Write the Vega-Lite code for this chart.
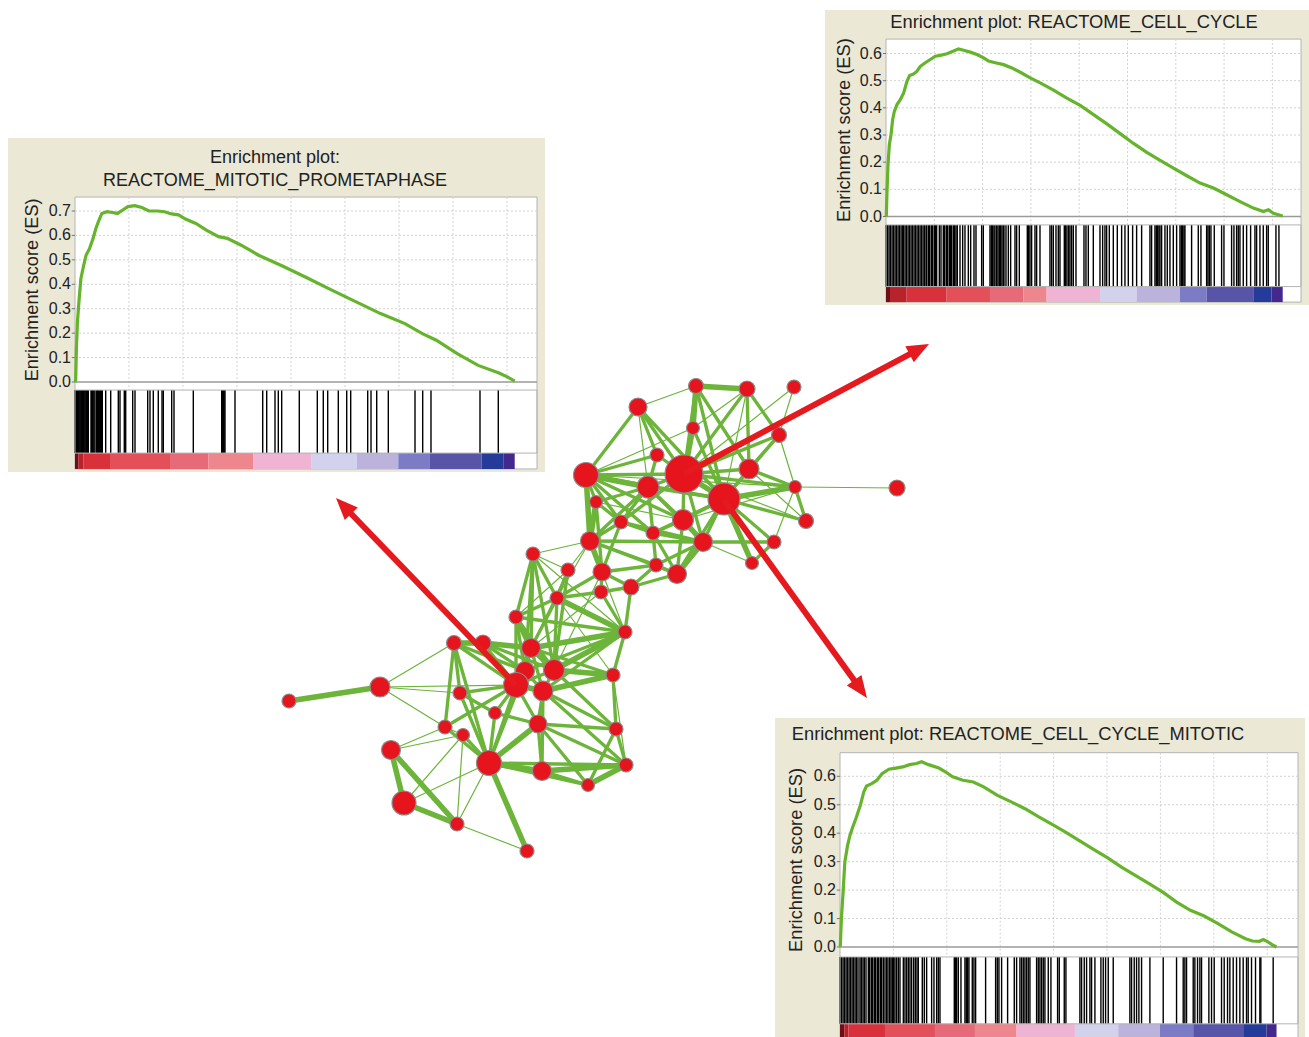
{
"$schema":"https://vega.github.io/schema/vega-lite/v6.json",
"width":1309,"height":1037,"autosize":"none","padding":0,"background":"#ffffff",
"config":{"view":{"stroke":null},"font":"Liberation Sans"},
"datasets":{
"gx":[{"v":2500},{"v":5000},{"v":7500},{"v":10000},{"v":12500},{"v":15000},{"v":17500},{"v":20000}],
"gy7":[{"v":0.1},{"v":0.2},{"v":0.3},{"v":0.4},{"v":0.5},{"v":0.6},{"v":0.7}],
"gy6":[{"v":0.1},{"v":0.2},{"v":0.3},{"v":0.4},{"v":0.5},{"v":0.6}],
"ty7":[{"v":0},{"v":0.1},{"v":0.2},{"v":0.3},{"v":0.4},{"v":0.5},{"v":0.6},{"v":0.7}],
"ty6":[{"v":0},{"v":0.1},{"v":0.2},{"v":0.3},{"v":0.4},{"v":0.5},{"v":0.6}],
"tl_es":[{"rank":0,"es":0},{"rank":32,"es":0.007},{"rank":65,"es":0.137},{"rank":113,"es":0.246},{"rank":194,"es":0.342},{"rank":274,"es":0.424},{"rank":403,"es":0.478},{"rank":516,"es":0.52},{"rank":677,"es":0.547},{"rank":839,"es":0.588},{"rank":968,"es":0.629},{"rank":1113,"es":0.663},{"rank":1242,"es":0.69},{"rank":1484,"es":0.697},{"rank":1726,"es":0.694},{"rank":1968,"es":0.69},{"rank":2210,"es":0.704},{"rank":2452,"es":0.718},{"rank":2774,"es":0.722},{"rank":3097,"es":0.714},{"rank":3420,"es":0.7},{"rank":3823,"es":0.7},{"rank":4145,"es":0.697},{"rank":4468,"es":0.688},{"rank":4791,"es":0.684},{"rank":5113,"es":0.667},{"rank":5597,"es":0.649},{"rank":6081,"es":0.622},{"rank":6646,"es":0.595},{"rank":7049,"es":0.588},{"rank":7694,"es":0.56},{"rank":8500,"es":0.519},{"rank":9630,"es":0.474},{"rank":10759,"es":0.426},{"rank":11888,"es":0.376},{"rank":13017,"es":0.328},{"rank":14146,"es":0.28},{"rank":15275,"es":0.239},{"rank":16082,"es":0.198},{"rank":16727,"es":0.171},{"rank":17695,"es":0.116},{"rank":18663,"es":0.068},{"rank":19631,"es":0.037},{"rank":20034,"es":0.02},{"rank":20357,"es":0.004}],
"tl_hits":[{"rank":0},{"rank":40},{"rank":79},{"rank":115},{"rank":153},{"rank":192},{"rank":231},{"rank":270},{"rank":310},{"rank":347},{"rank":384},{"rank":424},{"rank":463},{"rank":502},{"rank":542},{"rank":580},{"rank":616},{"rank":741},{"rank":770},{"rank":801},{"rank":840},{"rank":880},{"rank":926},{"rank":1005},{"rank":1035},{"rank":1065},{"rank":1095},{"rank":1125},{"rank":1160},{"rank":1190},{"rank":1225},{"rank":1264},{"rank":1421},{"rank":1653},{"rank":2005},{"rank":2083},{"rank":2282},{"rank":2347},{"rank":2671},{"rank":2778},{"rank":3366},{"rank":3472},{"rank":3625},{"rank":3856},{"rank":4028},{"rank":4088},{"rank":4477},{"rank":4583},{"rank":5477},{"rank":6792},{"rank":6830},{"rank":6866},{"rank":6905},{"rank":6944},{"rank":7407},{"rank":8690},{"rank":8875},{"rank":9259},{"rank":9412},{"rank":9569},{"rank":10384},{"rank":11218},{"rank":11495},{"rank":11699},{"rank":12190},{"rank":12579},{"rank":12764},{"rank":13551},{"rank":13704},{"rank":13968},{"rank":14505},{"rank":15741},{"rank":16097},{"rank":16481},{"rank":18750},{"rank":19597}],
"tl_bar":[{"s":0,"e":150,"lv":6},{"s":150,"e":400,"lv":5},{"s":400,"e":1620,"lv":4},{"s":1620,"e":4398,"lv":3},{"s":4398,"e":6172,"lv":2},{"s":6172,"e":8255,"lv":1},{"s":8255,"e":10955,"lv":0},{"s":10955,"e":13038,"lv":-1},{"s":13038,"e":14967,"lv":-2},{"s":14967,"e":16433,"lv":-3},{"s":16433,"e":18825,"lv":-4},{"s":18825,"e":19828,"lv":-5},{"s":19828,"e":20357,"lv":-6}],
"tr_es":[{"rank":0,"es":0},{"rank":17,"es":0.004},{"rank":52,"es":0.092},{"rank":103,"es":0.19},{"rank":172,"es":0.264},{"rank":259,"es":0.301},{"rank":345,"es":0.357},{"rank":431,"es":0.387},{"rank":569,"es":0.412},{"rank":741,"es":0.43},{"rank":914,"es":0.455},{"rank":1086,"es":0.498},{"rank":1224,"es":0.519},{"rank":1431,"es":0.525},{"rank":1603,"es":0.535},{"rank":1776,"es":0.553},{"rank":2034,"es":0.566},{"rank":2293,"es":0.578},{"rank":2552,"es":0.59},{"rank":2810,"es":0.593},{"rank":3155,"es":0.599},{"rank":3500,"es":0.609},{"rank":3758,"es":0.617},{"rank":4017,"es":0.612},{"rank":4362,"es":0.605},{"rank":4706,"es":0.596},{"rank":5051,"es":0.584},{"rank":5310,"es":0.572},{"rank":5655,"es":0.566},{"rank":6086,"es":0.559},{"rank":6517,"es":0.547},{"rank":6948,"es":0.531},{"rank":7465,"es":0.51},{"rank":7982,"es":0.492},{"rank":8672,"es":0.465},{"rank":9362,"es":0.436},{"rank":10051,"es":0.409},{"rank":10741,"es":0.375},{"rank":11431,"es":0.341},{"rank":12120,"es":0.305},{"rank":12810,"es":0.269},{"rank":13499,"es":0.236},{"rank":14189,"es":0.207},{"rank":14879,"es":0.178},{"rank":15568,"es":0.15},{"rank":16258,"es":0.123},{"rank":16947,"es":0.105},{"rank":17637,"es":0.08},{"rank":18326,"es":0.055},{"rank":19016,"es":0.031},{"rank":19533,"es":0.018},{"rank":19792,"es":0.025},{"rank":20050,"es":0.012},{"rank":20533,"es":0.002}],
"tr_hits":[{"rank":0},{"rank":69},{"rank":155},{"rank":224},{"rank":311},{"rank":380},{"rank":466},{"rank":535},{"rank":621},{"rank":690},{"rank":776},{"rank":845},{"rank":897},{"rank":983},{"rank":1052},{"rank":1139},{"rank":1208},{"rank":1294},{"rank":1363},{"rank":1449},{"rank":1518},{"rank":1604},{"rank":1673},{"rank":1760},{"rank":1829},{"rank":1915},{"rank":1984},{"rank":2070},{"rank":2105},{"rank":2191},{"rank":2260},{"rank":2346},{"rank":2415},{"rank":2501},{"rank":2570},{"rank":2622},{"rank":2760},{"rank":2846},{"rank":2967},{"rank":3036},{"rank":3122},{"rank":3191},{"rank":3278},{"rank":3347},{"rank":3398},{"rank":3485},{"rank":3554},{"rank":3623},{"rank":3692},{"rank":3830},{"rank":3968},{"rank":4088},{"rank":4261},{"rank":4382},{"rank":4554},{"rank":4658},{"rank":4951},{"rank":5037},{"rank":5382},{"rank":5451},{"rank":5520},{"rank":5589},{"rank":5641},{"rank":5727},{"rank":5796},{"rank":5865},{"rank":5934},{"rank":6003},{"rank":6072},{"rank":6107},{"rank":6210},{"rank":6331},{"rank":6452},{"rank":6676},{"rank":6762},{"rank":6900},{"rank":7314},{"rank":7383},{"rank":7452},{"rank":7538},{"rank":7711},{"rank":7797},{"rank":7970},{"rank":8487},{"rank":8573},{"rank":8660},{"rank":8798},{"rank":8918},{"rank":9005},{"rank":9229},{"rank":9298},{"rank":9367},{"rank":9453},{"rank":9522},{"rank":9608},{"rank":9695},{"rank":9833},{"rank":10247},{"rank":10350},{"rank":10471},{"rank":10730},{"rank":11075},{"rank":11213},{"rank":11333},{"rank":11420},{"rank":11558},{"rank":11765},{"rank":11972},{"rank":12196},{"rank":12368},{"rank":12541},{"rank":12765},{"rank":12972},{"rank":13231},{"rank":13662},{"rank":13748},{"rank":13921},{"rank":13990},{"rank":14059},{"rank":14128},{"rank":14180},{"rank":14266},{"rank":14438},{"rank":14559},{"rank":14697},{"rank":14870},{"rank":15042},{"rank":15215},{"rank":15284},{"rank":15353},{"rank":15422},{"rank":15473},{"rank":15818},{"rank":16163},{"rank":16301},{"rank":16595},{"rank":16664},{"rank":16733},{"rank":16819},{"rank":16991},{"rank":17371},{"rank":17492},{"rank":17888},{"rank":18009},{"rank":18147},{"rank":18233},{"rank":18320},{"rank":18492},{"rank":18665},{"rank":18872},{"rank":19096},{"rank":19182},{"rank":19355},{"rank":19527},{"rank":19700},{"rank":19786},{"rank":20183},{"rank":20338}],
"tr_bar":[{"s":0,"e":207,"lv":6},{"s":207,"e":1070,"lv":5},{"s":1070,"e":3140,"lv":4},{"s":3140,"e":5382,"lv":3},{"s":5382,"e":7107,"lv":2},{"s":7107,"e":8315,"lv":1},{"s":8315,"e":11075,"lv":0},{"s":11075,"e":12972,"lv":-1},{"s":12972,"e":15215,"lv":-2},{"s":15215,"e":16595,"lv":-3},{"s":16595,"e":19010,"lv":-4},{"s":19010,"e":19958,"lv":-5},{"s":19958,"e":20533,"lv":-6}],
"br_es":[{"rank":0,"es":0},{"rank":16,"es":0.006},{"rank":65,"es":0.1},{"rank":145,"es":0.193},{"rank":226,"es":0.299},{"rank":355,"es":0.357},{"rank":468,"es":0.393},{"rank":597,"es":0.422},{"rank":758,"es":0.454},{"rank":952,"es":0.498},{"rank":1113,"es":0.545},{"rank":1242,"es":0.566},{"rank":1484,"es":0.574},{"rank":1726,"es":0.586},{"rank":1968,"es":0.609},{"rank":2290,"es":0.625},{"rank":2613,"es":0.629},{"rank":2936,"es":0.633},{"rank":3258,"es":0.641},{"rank":3581,"es":0.645},{"rank":3823,"es":0.651},{"rank":4145,"es":0.641},{"rank":4629,"es":0.629},{"rank":4952,"es":0.615},{"rank":5274,"es":0.598},{"rank":5758,"es":0.586},{"rank":6242,"es":0.58},{"rank":6726,"es":0.563},{"rank":7371,"es":0.533},{"rank":8017,"es":0.51},{"rank":8662,"es":0.486},{"rank":9307,"es":0.457},{"rank":9952,"es":0.43},{"rank":10597,"es":0.402},{"rank":11243,"es":0.372},{"rank":11888,"es":0.342},{"rank":12533,"es":0.313},{"rank":13178,"es":0.281},{"rank":13823,"es":0.252},{"rank":14469,"es":0.223},{"rank":15114,"es":0.193},{"rank":15759,"es":0.158},{"rank":16404,"es":0.129},{"rank":17049,"es":0.109},{"rank":17695,"es":0.082},{"rank":18340,"es":0.053},{"rank":18985,"es":0.029},{"rank":19308,"es":0.021},{"rank":19631,"es":0.02},{"rank":19824,"es":0.026},{"rank":20034,"es":0.018},{"rank":20276,"es":0.006},{"rank":20437,"es":0.0}],
"br_hits":[{"rank":0},{"rank":62},{"rank":140},{"rank":203},{"rank":281},{"rank":343},{"rank":421},{"rank":484},{"rank":562},{"rank":624},{"rank":702},{"rank":764},{"rank":842},{"rank":936},{"rank":998},{"rank":1076},{"rank":1139},{"rank":1217},{"rank":1326},{"rank":1388},{"rank":1466},{"rank":1529},{"rank":1607},{"rank":1669},{"rank":1747},{"rank":1810},{"rank":1888},{"rank":1950},{"rank":2028},{"rank":2106},{"rank":2184},{"rank":2246},{"rank":2324},{"rank":2387},{"rank":2449},{"rank":2512},{"rank":2574},{"rank":2652},{"rank":2730},{"rank":2808},{"rank":2964},{"rank":3042},{"rank":3120},{"rank":3198},{"rank":3276},{"rank":3354},{"rank":3448},{"rank":3526},{"rank":3604},{"rank":3666},{"rank":3853},{"rank":3947},{"rank":4056},{"rank":4290},{"rank":4399},{"rank":4524},{"rank":4602},{"rank":4680},{"rank":5351},{"rank":5413},{"rank":5460},{"rank":5538},{"rank":5663},{"rank":5850},{"rank":5912},{"rank":5975},{"rank":6037},{"rank":6193},{"rank":6271},{"rank":6349},{"rank":6817},{"rank":7285},{"rank":7363},{"rank":7441},{"rank":7566},{"rank":7847},{"rank":8159},{"rank":8268},{"rank":8424},{"rank":8502},{"rank":8580},{"rank":8658},{"rank":8736},{"rank":8814},{"rank":8892},{"rank":9204},{"rank":9282},{"rank":9360},{"rank":9438},{"rank":9516},{"rank":9594},{"rank":9750},{"rank":9875},{"rank":10187},{"rank":10265},{"rank":10499},{"rank":10577},{"rank":11232},{"rank":11310},{"rank":11435},{"rank":11544},{"rank":11700},{"rank":11778},{"rank":11934},{"rank":12215},{"rank":12324},{"rank":12433},{"rank":12558},{"rank":12792},{"rank":13572},{"rank":13650},{"rank":13775},{"rank":13884},{"rank":13993},{"rank":14118},{"rank":14508},{"rank":15132},{"rank":15756},{"rank":16068},{"rank":16146},{"rank":16224},{"rank":16536},{"rank":16614},{"rank":16739},{"rank":16848},{"rank":16926},{"rank":17269},{"rank":17394},{"rank":17519},{"rank":17862},{"rank":17987},{"rank":18143},{"rank":18252},{"rank":18408},{"rank":18564},{"rank":18720},{"rank":18876},{"rank":19032},{"rank":19110},{"rank":19266},{"rank":19453},{"rank":19656},{"rank":19703},{"rank":20280}],
"br_bar":[{"s":0,"e":200,"lv":6},{"s":200,"e":390,"lv":5},{"s":390,"e":2106,"lv":4},{"s":2106,"e":4446,"lv":3},{"s":4446,"e":6318,"lv":2},{"s":6318,"e":8268,"lv":1},{"s":8268,"e":10998,"lv":0},{"s":10998,"e":13026,"lv":-1},{"s":13026,"e":14976,"lv":-2},{"s":14976,"e":16536,"lv":-3},{"s":16536,"e":18876,"lv":-4},{"s":18876,"e":19968,"lv":-5},{"s":19968,"e":20437,"lv":-6}],
"nodes":[{"id":"u1","x":696,"y":386,"genes":56},{"id":"u2","x":747,"y":389,"genes":64},{"id":"u3","x":794,"y":387,"genes":49},{"id":"u4","x":638,"y":407,"genes":81},{"id":"u5","x":693,"y":428,"genes":42},{"id":"u6","x":779,"y":435,"genes":56},{"id":"u7","x":657,"y":455,"genes":49},{"id":"u8","x":586,"y":475,"genes":156},{"id":"u9","x":684,"y":474,"genes":361},{"id":"u10","x":749,"y":469,"genes":100},{"id":"u11","x":648,"y":487,"genes":121},{"id":"u12","x":724,"y":499,"genes":256},{"id":"u13","x":795,"y":487,"genes":42},{"id":"u14","x":897,"y":488,"genes":64},{"id":"u15","x":596,"y":502,"genes":42},{"id":"u16","x":621,"y":522,"genes":49},{"id":"u17","x":683,"y":520,"genes":110},{"id":"u18","x":653,"y":533,"genes":49},{"id":"u19","x":806,"y":521,"genes":56},{"id":"u20","x":590,"y":541,"genes":90},{"id":"u21","x":703,"y":542,"genes":90},{"id":"u22","x":774,"y":542,"genes":49},{"id":"u23","x":752,"y":563,"genes":42},{"id":"u24","x":656,"y":565,"genes":49},{"id":"u25","x":602,"y":572,"genes":81},{"id":"u26","x":677,"y":574,"genes":90},{"id":"u27","x":568,"y":570,"genes":49},{"id":"u28","x":631,"y":587,"genes":64},{"id":"u29","x":601,"y":592,"genes":49},
{"id":"l1","x":533,"y":554,"genes":49},{"id":"l2","x":557,"y":598,"genes":49},{"id":"l3","x":516,"y":617,"genes":49},{"id":"l4","x":625,"y":632,"genes":49},{"id":"l5","x":454,"y":643,"genes":56},{"id":"l6","x":483,"y":643,"genes":64},{"id":"l7","x":531,"y":648,"genes":90},{"id":"l8","x":525,"y":671,"genes":90},{"id":"l9","x":554,"y":670,"genes":110},{"id":"l10","x":516,"y":685,"genes":156},{"id":"l11","x":543,"y":691,"genes":100},{"id":"l12","x":613,"y":675,"genes":49},{"id":"l13","x":380,"y":687,"genes":100},{"id":"l14","x":289,"y":701,"genes":49},{"id":"l15","x":460,"y":693,"genes":49},{"id":"l16","x":495,"y":713,"genes":42},{"id":"l17","x":445,"y":727,"genes":49},{"id":"l18","x":463,"y":735,"genes":42},{"id":"l19","x":538,"y":724,"genes":81},{"id":"l20","x":616,"y":729,"genes":49},{"id":"l21","x":391,"y":750,"genes":90},{"id":"l22","x":489,"y":763,"genes":156},{"id":"l23","x":542,"y":771,"genes":90},{"id":"l24","x":626,"y":765,"genes":49},{"id":"l25","x":588,"y":785,"genes":42},{"id":"l26","x":404,"y":803,"genes":144},{"id":"l27","x":457,"y":824,"genes":49},{"id":"l28","x":527,"y":851,"genes":49}],
"edges":[{"s":"u1","t":"u2","w":3},{"s":"u1","t":"u5","w":3},{"s":"u1","t":"u9","w":2},{"s":"u1","t":"u10","w":2},{"s":"u1","t":"u12","w":2},{"s":"u1","t":"u4","w":1},{"s":"u2","t":"u6","w":2},{"s":"u2","t":"u9","w":2},{"s":"u2","t":"u10","w":2},{"s":"u2","t":"u12","w":1},{"s":"u2","t":"u5","w":1},{"s":"u3","t":"u9","w":1},{"s":"u3","t":"u6","w":1},{"s":"u4","t":"u8","w":2},{"s":"u4","t":"u9","w":2},{"s":"u4","t":"u7","w":2},{"s":"u4","t":"u11","w":1},{"s":"u4","t":"u12","w":2},{"s":"u5","t":"u9","w":3},{"s":"u5","t":"u12","w":2},{"s":"u5","t":"u8","w":1},{"s":"u6","t":"u9","w":2},{"s":"u6","t":"u10","w":2},{"s":"u6","t":"u12","w":2},{"s":"u6","t":"u13","w":1},{"s":"u7","t":"u8","w":2},{"s":"u7","t":"u9","w":2},{"s":"u7","t":"u11","w":2},{"s":"u8","t":"u9","w":2},{"s":"u8","t":"u11","w":3},{"s":"u8","t":"u12","w":2},{"s":"u8","t":"u15","w":2},{"s":"u8","t":"u20","w":3},{"s":"u8","t":"u13","w":1},{"s":"u8","t":"u17","w":2},{"s":"u8","t":"u18","w":2},{"s":"u8","t":"u16","w":2},{"s":"u9","t":"u10","w":2},{"s":"u9","t":"u11","w":2},{"s":"u9","t":"u12","w":3},{"s":"u9","t":"u13","w":2},{"s":"u9","t":"u17","w":2},{"s":"u9","t":"u21","w":2},{"s":"u9","t":"u16","w":2},{"s":"u9","t":"u19","w":1},{"s":"u10","t":"u12","w":2},{"s":"u10","t":"u13","w":2},{"s":"u10","t":"u19","w":1},{"s":"u12","t":"u13","w":3},{"s":"u12","t":"u19","w":2},{"s":"u12","t":"u21","w":2},{"s":"u12","t":"u17","w":2},{"s":"u12","t":"u23","w":3},{"s":"u12","t":"u22","w":2},{"s":"u12","t":"u18","w":2},{"s":"u12","t":"u26","w":2},{"s":"u13","t":"u14","w":1},{"s":"u13","t":"u19","w":2},{"s":"u13","t":"u22","w":1},{"s":"u13","t":"u17","w":1},{"s":"u11","t":"u15","w":2},{"s":"u11","t":"u16","w":2},{"s":"u11","t":"u17","w":2},{"s":"u11","t":"u18","w":2},{"s":"u11","t":"u20","w":2},{"s":"u11","t":"u12","w":2},{"s":"u11","t":"u21","w":2},{"s":"u15","t":"u20","w":3},{"s":"u15","t":"u16","w":2},{"s":"u15","t":"u17","w":1},{"s":"u16","t":"u20","w":2},{"s":"u16","t":"u21","w":2},{"s":"u16","t":"u18","w":2},{"s":"u17","t":"u21","w":3},{"s":"u17","t":"u18","w":2},{"s":"u18","t":"u21","w":2},{"s":"u18","t":"u24","w":2},{"s":"u20","t":"u25","w":3},{"s":"u20","t":"u24","w":2},{"s":"u20","t":"u26","w":2},{"s":"u20","t":"u21","w":2},{"s":"u20","t":"u27","w":1},{"s":"u21","t":"u26","w":3},{"s":"u21","t":"u24","w":2},{"s":"u21","t":"u23","w":1},{"s":"u21","t":"u22","w":2},{"s":"u22","t":"u23","w":2},{"s":"u24","t":"u25","w":2},{"s":"u24","t":"u26","w":2},{"s":"u25","t":"u28","w":2},{"s":"u26","t":"u28","w":2},{"s":"u24","t":"u28","w":2},{"s":"u25","t":"u29","w":2},{"s":"u28","t":"u29","w":2},{"s":"u16","t":"u25","w":2},{"s":"u17","t":"u26","w":2},{"s":"u18","t":"u26","w":2},{"s":"u15","t":"u25","w":2},
{"s":"u20","t":"l1","w":1},{"s":"u27","t":"l1","w":1},{"s":"u27","t":"l2","w":2},{"s":"u25","t":"l2","w":2},{"s":"u29","t":"l2","w":2},{"s":"u27","t":"l3","w":1},{"s":"u29","t":"l4","w":2},{"s":"u28","t":"l4","w":2},{"s":"u25","t":"l4","w":1},{"s":"u20","t":"l2","w":1},{"s":"u27","t":"l7","w":1},{"s":"u29","t":"l7","w":1},{"s":"u27","t":"l9","w":2},{"s":"u25","t":"l9","w":1},
{"s":"l1","t":"l3","w":2},{"s":"l1","t":"l2","w":2},{"s":"l1","t":"l7","w":2},{"s":"l1","t":"l9","w":2},{"s":"l1","t":"l8","w":2},{"s":"l1","t":"l4","w":1},{"s":"l2","t":"l4","w":3},{"s":"l2","t":"l7","w":2},{"s":"l2","t":"l9","w":2},{"s":"l2","t":"l3","w":2},{"s":"l2","t":"l12","w":1},{"s":"l3","t":"l7","w":3},{"s":"l3","t":"l8","w":2},{"s":"l3","t":"l10","w":2},{"s":"l3","t":"l9","w":2},{"s":"l3","t":"l4","w":2},{"s":"l4","t":"l9","w":3},{"s":"l4","t":"l12","w":2},{"s":"l4","t":"l7","w":3},{"s":"l4","t":"l11","w":2},{"s":"l4","t":"l8","w":2},{"s":"l5","t":"l6","w":3},{"s":"l5","t":"l10","w":2},{"s":"l5","t":"l15","w":2},{"s":"l5","t":"l17","w":2},{"s":"l5","t":"l22","w":2},{"s":"l5","t":"l13","w":1},{"s":"l5","t":"l8","w":2},{"s":"l6","t":"l7","w":3},{"s":"l6","t":"l10","w":2},{"s":"l6","t":"l9","w":2},{"s":"l6","t":"l8","w":2},{"s":"l7","t":"l8","w":2},{"s":"l7","t":"l9","w":3},{"s":"l7","t":"l10","w":2},{"s":"l7","t":"l11","w":2},{"s":"l7","t":"l12","w":2},{"s":"l8","t":"l10","w":2},{"s":"l8","t":"l11","w":2},{"s":"l9","t":"l11","w":2},{"s":"l9","t":"l12","w":3},{"s":"l9","t":"l10","w":2},{"s":"l9","t":"l20","w":2},{"s":"l10","t":"l13","w":1},{"s":"l10","t":"l15","w":2},{"s":"l10","t":"l16","w":2},{"s":"l10","t":"l17","w":2},{"s":"l10","t":"l19","w":2},{"s":"l10","t":"l22","w":2},{"s":"l10","t":"l11","w":3},{"s":"l11","t":"l19","w":2},{"s":"l11","t":"l23","w":2},{"s":"l11","t":"l12","w":3},{"s":"l11","t":"l24","w":2},{"s":"l11","t":"l20","w":2},{"s":"l12","t":"l20","w":2},{"s":"l12","t":"l24","w":1},{"s":"l13","t":"l14","w":3},{"s":"l13","t":"l15","w":1},{"s":"l13","t":"l17","w":1},{"s":"l15","t":"l16","w":2},{"s":"l15","t":"l22","w":2},{"s":"l16","t":"l19","w":2},{"s":"l16","t":"l22","w":2},{"s":"l17","t":"l18","w":1},{"s":"l17","t":"l22","w":2},{"s":"l18","t":"l22","w":2},{"s":"l18","t":"l21","w":1},{"s":"l18","t":"l26","w":1},{"s":"l18","t":"l27","w":1},{"s":"l17","t":"l21","w":1},{"s":"l19","t":"l22","w":3},{"s":"l19","t":"l23","w":2},{"s":"l19","t":"l20","w":2},{"s":"l19","t":"l25","w":2},{"s":"l19","t":"l24","w":2},{"s":"l20","t":"l24","w":2},{"s":"l20","t":"l25","w":2},{"s":"l21","t":"l26","w":3},{"s":"l21","t":"l27","w":3},{"s":"l22","t":"l23","w":3},{"s":"l22","t":"l24","w":2},{"s":"l22","t":"l27","w":1},{"s":"l22","t":"l28","w":3},{"s":"l22","t":"l25","w":2},{"s":"l22","t":"l26","w":1},{"s":"l23","t":"l25","w":2},{"s":"l23","t":"l24","w":3},{"s":"l24","t":"l25","w":3},{"s":"l26","t":"l27","w":3},{"s":"l27","t":"l28","w":1},{"s":"l8","t":"l22","w":2}],
"arrows":[{"x1":684,"y1":474,"x2":929,"y2":344},{"x1":724,"y1":500,"x2":867,"y2":698},{"x1":516,"y1":685,"x2":336,"y2":498}]
},
"layer":[
{"layer":[
 {"data":{"values":[{}]},"mark":{"type":"rect","fill":"#ebe8d6"},"encoding":{"x":{"datum":-3102,"type":"quantitative","scale":{"domain":[0,21389],"range":[75,537],"nice":false,"zero":false},"axis":null},"x2":{"datum":21759},"y":{"datum":0.999,"type":"quantitative","scale":{"domain":[0,0.7],"range":[382,211],"nice":false,"zero":false},"axis":null},"y2":{"datum":-0.368}}},
 {"data":{"values":[{}]},"mark":{"type":"rect","fill":"#ffffff","stroke":"#b4b4b4","strokeWidth":1},"encoding":{"x":{"datum":0,"type":"quantitative","axis":null},"x2":{"datum":21389},"y":{"datum":0.757,"type":"quantitative","axis":null},"y2":{"datum":-0.356}}},
 {"data":{"name":"gx"},"mark":{"type":"rule","color":"#d2d2d2","strokeDash":[2,2],"strokeWidth":1},"encoding":{"x":{"field":"v","type":"quantitative","axis":null},"y":{"datum":0.757,"type":"quantitative","axis":null},"y2":{"datum":-0.033}}},
 {"data":{"name":"gy7"},"mark":{"type":"rule","color":"#d2d2d2","strokeDash":[2,2],"strokeWidth":1},"encoding":{"y":{"field":"v","type":"quantitative","axis":null},"x":{"datum":0,"type":"quantitative","axis":null},"x2":{"datum":21389}}},
 {"data":{"values":[{}]},"mark":{"type":"rule","color":"#9a9a9a","strokeWidth":1.5},"encoding":{"y":{"datum":0,"type":"quantitative","axis":null},"x":{"datum":0,"type":"quantitative","axis":null},"x2":{"datum":21389}}},
 {"data":{"name":"ty7"},"mark":{"type":"rule","color":"#777777","strokeWidth":1},"encoding":{"y":{"field":"v","type":"quantitative","axis":null},"x":{"datum":-150,"type":"quantitative","axis":null},"x2":{"datum":0}}},
 {"data":{"name":"ty7"},"mark":{"type":"text","font":"Liberation Sans","fontSize":16,"color":"#222222","align":"right","baseline":"middle","dx":-4},"encoding":{"y":{"field":"v","type":"quantitative","axis":null},"x":{"datum":0,"type":"quantitative","axis":null},"text":{"field":"v","type":"quantitative","format":".1f"}}},
 {"data":{"values":[{}]},"mark":{"type":"text","font":"Liberation Sans","fontSize":18.2,"color":"#222222","align":"center","baseline":"middle","angle":270},"encoding":{"x":{"datum":-1944,"type":"quantitative","axis":null},"y":{"datum":0.377,"type":"quantitative","axis":null},"text":{"value":"Enrichment score (ES)"}}},
 {"data":{"name":"tl_bar"},"mark":{"type":"rect"},"encoding":{"x":{"field":"s","type":"quantitative","axis":null},"x2":{"field":"e"},"y":{"datum":-0.291,"type":"quantitative","axis":null},"y2":{"datum":-0.356},"color":{"field":"lv","type":"ordinal","scale":{"domain":[6,5,4,3,2,1,0,-1,-2,-3,-4,-5,-6],"range":["#6d0f14","#b9222b","#d9313b","#e4505a","#e66a78","#ee868d","#efb3d4","#d3d2ed","#bcb3dc","#7b7cc5","#5855a9","#253b99","#43288e"]},"legend":null}}},
 {"data":{"name":"tl_hits"},"mark":{"type":"rule","color":"#000000","strokeWidth":1.4},"encoding":{"x":{"field":"rank","type":"quantitative","axis":null},"y":{"datum":-0.033,"type":"quantitative","axis":null},"y2":{"datum":-0.291}}},
 {"data":{"values":[{}]},"mark":{"type":"rect","fillOpacity":0,"stroke":"#b4b4b4","strokeWidth":1},"encoding":{"x":{"datum":0,"type":"quantitative","axis":null},"x2":{"datum":21389},"y":{"datum":-0.033,"type":"quantitative","axis":null},"y2":{"datum":-0.291}}},
 {"data":{"name":"tl_es"},"mark":{"type":"line","color":"#66b32c","strokeWidth":3.2},"encoding":{"x":{"field":"rank","type":"quantitative","axis":null},"y":{"field":"es","type":"quantitative","axis":null}}},
 {"data":{"values":[{}]},"mark":{"type":"text","font":"Liberation Sans","fontSize":18,"color":"#222222","align":"center","baseline":"middle","lineHeight":23},"encoding":{"x":{"datum":9259,"type":"quantitative","axis":null},"y":{"datum":0.917,"type":"quantitative","axis":null},"text":{"value":["Enrichment plot:","REACTOME_MITOTIC_PROMETAPHASE"]}}}
]},
{"layer":[
 {"data":{"values":[{}]},"mark":{"type":"rect","fill":"#ebe8d6"},"encoding":{"x":{"datum":-3157,"type":"quantitative","scale":{"domain":[0,21480],"range":[886,1301],"nice":false,"zero":false},"axis":null},"x2":{"datum":21894},"y":{"datum":0.76,"type":"quantitative","scale":{"domain":[0,0.6],"range":[216.5,53.5],"nice":false,"zero":false},"axis":null},"y2":{"datum":-0.326}}},
 {"data":{"values":[{}]},"mark":{"type":"rect","fill":"#ffffff","stroke":"#b4b4b4","strokeWidth":1},"encoding":{"x":{"datum":0,"type":"quantitative","axis":null},"x2":{"datum":21480},"y":{"datum":0.653,"type":"quantitative","axis":null},"y2":{"datum":-0.315}}},
 {"data":{"name":"gx"},"mark":{"type":"rule","color":"#d2d2d2","strokeDash":[2,2],"strokeWidth":1},"encoding":{"x":{"field":"v","type":"quantitative","axis":null},"y":{"datum":0.653,"type":"quantitative","axis":null},"y2":{"datum":-0.031}}},
 {"data":{"name":"gy6"},"mark":{"type":"rule","color":"#d2d2d2","strokeDash":[2,2],"strokeWidth":1},"encoding":{"y":{"field":"v","type":"quantitative","axis":null},"x":{"datum":0,"type":"quantitative","axis":null},"x2":{"datum":21480}}},
 {"data":{"values":[{}]},"mark":{"type":"rule","color":"#9a9a9a","strokeWidth":1.5},"encoding":{"y":{"datum":0,"type":"quantitative","axis":null},"x":{"datum":0,"type":"quantitative","axis":null},"x2":{"datum":21480}}},
 {"data":{"name":"ty6"},"mark":{"type":"rule","color":"#777777","strokeWidth":1},"encoding":{"y":{"field":"v","type":"quantitative","axis":null},"x":{"datum":-160,"type":"quantitative","axis":null},"x2":{"datum":0}}},
 {"data":{"name":"ty6"},"mark":{"type":"text","font":"Liberation Sans","fontSize":16,"color":"#222222","align":"right","baseline":"middle","dx":-4},"encoding":{"y":{"field":"v","type":"quantitative","axis":null},"x":{"datum":0,"type":"quantitative","axis":null},"text":{"field":"v","type":"quantitative","format":".1f"}}},
 {"data":{"values":[{}]},"mark":{"type":"text","font":"Liberation Sans","fontSize":18.3,"color":"#222222","align":"center","baseline":"middle","angle":270},"encoding":{"x":{"datum":-2122,"type":"quantitative","axis":null},"y":{"datum":0.318,"type":"quantitative","axis":null},"text":{"value":"Enrichment score (ES)"}}},
 {"data":{"name":"tr_bar"},"mark":{"type":"rect"},"encoding":{"x":{"field":"s","type":"quantitative","axis":null},"x2":{"field":"e"},"y":{"datum":-0.258,"type":"quantitative","axis":null},"y2":{"datum":-0.315},"color":{"field":"lv","type":"ordinal","scale":{"domain":[6,5,4,3,2,1,0,-1,-2,-3,-4,-5,-6],"range":["#6d0f14","#b9222b","#d9313b","#e4505a","#e66a78","#ee868d","#efb3d4","#d3d2ed","#bcb3dc","#7b7cc5","#5855a9","#253b99","#43288e"]},"legend":null}}},
 {"data":{"name":"tr_hits"},"mark":{"type":"rule","color":"#000000","strokeWidth":1.4},"encoding":{"x":{"field":"rank","type":"quantitative","axis":null},"y":{"datum":-0.031,"type":"quantitative","axis":null},"y2":{"datum":-0.258}}},
 {"data":{"values":[{}]},"mark":{"type":"rect","fillOpacity":0,"stroke":"#b4b4b4","strokeWidth":1},"encoding":{"x":{"datum":0,"type":"quantitative","axis":null},"x2":{"datum":21480},"y":{"datum":-0.031,"type":"quantitative","axis":null},"y2":{"datum":-0.258}}},
 {"data":{"name":"tr_es"},"mark":{"type":"line","color":"#66b32c","strokeWidth":3.2},"encoding":{"x":{"field":"rank","type":"quantitative","axis":null},"y":{"field":"es","type":"quantitative","axis":null}}},
 {"data":{"values":[{}]},"mark":{"type":"text","font":"Liberation Sans","fontSize":18.3,"color":"#222222","align":"center","baseline":"middle"},"encoding":{"x":{"datum":9731,"type":"quantitative","axis":null},"y":{"datum":0.712,"type":"quantitative","axis":null},"text":{"value":"Enrichment plot: REACTOME_CELL_CYCLE"}}}
]},
{"layer":[
 {"data":{"values":[{}]},"mark":{"type":"rect","fill":"#ebe8d6"},"encoding":{"x":{"datum":-3043,"type":"quantitative","scale":{"domain":[0,21442],"range":[840,1298],"nice":false,"zero":false},"axis":null},"x2":{"datum":21770},"y":{"datum":0.805,"type":"quantitative","scale":{"domain":[0,0.6],"range":[947,776.3],"nice":false,"zero":false},"axis":null},"y2":{"datum":-0.34}}},
 {"data":{"values":[{}]},"mark":{"type":"rect","fill":"#ffffff","stroke":"#b4b4b4","strokeWidth":1},"encoding":{"x":{"datum":0,"type":"quantitative","axis":null},"x2":{"datum":21442},"y":{"datum":0.683,"type":"quantitative","axis":null},"y2":{"datum":-0.34}}},
 {"data":{"name":"gx"},"mark":{"type":"rule","color":"#d2d2d2","strokeDash":[2,2],"strokeWidth":1},"encoding":{"x":{"field":"v","type":"quantitative","axis":null},"y":{"datum":0.683,"type":"quantitative","axis":null},"y2":{"datum":-0.035}}},
 {"data":{"name":"gy6"},"mark":{"type":"rule","color":"#d2d2d2","strokeDash":[2,2],"strokeWidth":1},"encoding":{"y":{"field":"v","type":"quantitative","axis":null},"x":{"datum":0,"type":"quantitative","axis":null},"x2":{"datum":21442}}},
 {"data":{"values":[{}]},"mark":{"type":"rule","color":"#9a9a9a","strokeWidth":1.5},"encoding":{"y":{"datum":0,"type":"quantitative","axis":null},"x":{"datum":0,"type":"quantitative","axis":null},"x2":{"datum":21442}}},
 {"data":{"name":"ty6"},"mark":{"type":"rule","color":"#777777","strokeWidth":1},"encoding":{"y":{"field":"v","type":"quantitative","axis":null},"x":{"datum":-150,"type":"quantitative","axis":null},"x2":{"datum":0}}},
 {"data":{"name":"ty6"},"mark":{"type":"text","font":"Liberation Sans","fontSize":16,"color":"#222222","align":"right","baseline":"middle","dx":-4},"encoding":{"y":{"field":"v","type":"quantitative","axis":null},"x":{"datum":0,"type":"quantitative","axis":null},"text":{"field":"v","type":"quantitative","format":".1f"}}},
 {"data":{"values":[{}]},"mark":{"type":"text","font":"Liberation Sans","fontSize":18.3,"color":"#222222","align":"center","baseline":"middle","angle":270},"encoding":{"x":{"datum":-2013,"type":"quantitative","axis":null},"y":{"datum":0.306,"type":"quantitative","axis":null},"text":{"value":"Enrichment score (ES)"}}},
 {"data":{"name":"br_bar"},"mark":{"type":"rect"},"encoding":{"x":{"field":"s","type":"quantitative","axis":null},"x2":{"field":"e"},"y":{"datum":-0.27,"type":"quantitative","axis":null},"y2":{"datum":-0.34},"color":{"field":"lv","type":"ordinal","scale":{"domain":[6,5,4,3,2,1,0,-1,-2,-3,-4,-5,-6],"range":["#6d0f14","#b9222b","#d9313b","#e4505a","#e66a78","#ee868d","#efb3d4","#d3d2ed","#bcb3dc","#7b7cc5","#5855a9","#253b99","#43288e"]},"legend":null}}},
 {"data":{"name":"br_hits"},"mark":{"type":"rule","color":"#000000","strokeWidth":1.4},"encoding":{"x":{"field":"rank","type":"quantitative","axis":null},"y":{"datum":-0.035,"type":"quantitative","axis":null},"y2":{"datum":-0.27}}},
 {"data":{"values":[{}]},"mark":{"type":"rect","fillOpacity":0,"stroke":"#b4b4b4","strokeWidth":1},"encoding":{"x":{"datum":0,"type":"quantitative","axis":null},"x2":{"datum":21442},"y":{"datum":-0.035,"type":"quantitative","axis":null},"y2":{"datum":-0.27}}},
 {"data":{"name":"br_es"},"mark":{"type":"line","color":"#66b32c","strokeWidth":3.2},"encoding":{"x":{"field":"rank","type":"quantitative","axis":null},"y":{"field":"es","type":"quantitative","axis":null}}},
 {"data":{"values":[{}]},"mark":{"type":"text","font":"Liberation Sans","fontSize":18.3,"color":"#222222","align":"center","baseline":"middle"},"encoding":{"x":{"datum":8333,"type":"quantitative","axis":null},"y":{"datum":0.745,"type":"quantitative","axis":null},"text":{"value":"Enrichment plot: REACTOME_CELL_CYCLE_MITOTIC"}}}
]},
{"layer":[
 {"data":{"name":"edges"},"transform":[{"lookup":"s","from":{"data":{"name":"nodes"},"key":"id","fields":["x","y"]},"as":["xs","ys"]},{"lookup":"t","from":{"data":{"name":"nodes"},"key":"id","fields":["x","y"]},"as":["xt","yt"]}],
  "mark":{"type":"rule","color":"#6cb43a","strokeCap":"round"},
  "encoding":{"x":{"field":"xs","type":"quantitative","scale":{"domain":[0,1309],"range":[0,1309],"nice":false,"zero":false},"axis":null},"y":{"field":"ys","type":"quantitative","scale":{"domain":[0,1037],"range":[0,1037],"nice":false,"zero":false},"axis":null},"x2":{"field":"xt"},"y2":{"field":"yt"},"strokeWidth":{"field":"w","type":"quantitative","scale":{"domain":[1,3],"range":[1.2,5.5]},"legend":null}}},
 {"data":{"name":"nodes"},"mark":{"type":"circle","fill":"#e5141d","stroke":"#8c8c8c","strokeWidth":1.2,"opacity":1},"encoding":{"x":{"field":"x","type":"quantitative","axis":null},"y":{"field":"y","type":"quantitative","axis":null},"size":{"field":"genes","type":"quantitative","scale":{"domain":[0,100],"range":[0,400]},"legend":null}}},
 {"data":{"name":"arrows"},"transform":[{"calculate":"atan2(datum.y2-datum.y1, datum.x2-datum.x1)","as":"a"},{"calculate":"datum.a*180/PI","as":"deg"},{"calculate":"datum.x2-18*cos(datum.a)","as":"xb"},{"calculate":"datum.y2-18*sin(datum.a)","as":"yb"}],
  "layer":[
   {"mark":{"type":"rule","color":"#e41a1f","strokeWidth":6},"encoding":{"x":{"field":"x1","type":"quantitative","axis":null},"y":{"field":"y1","type":"quantitative","axis":null},"x2":{"field":"xb"},"y2":{"field":"yb"}}},
   {"mark":{"type":"point","shape":"M0,0L-2,-0.82L-2,0.82Z","filled":true,"fill":"#e41a1f","strokeWidth":0,"size":484,"opacity":1},"encoding":{"x":{"field":"x2","type":"quantitative","axis":null},"y":{"field":"y2","type":"quantitative","axis":null},"angle":{"field":"deg","type":"quantitative","scale":null}}}
  ]}
]}
],
"resolve":{"scale":{"x":"independent","y":"independent"},"axis":{"x":"independent","y":"independent"}}
}
